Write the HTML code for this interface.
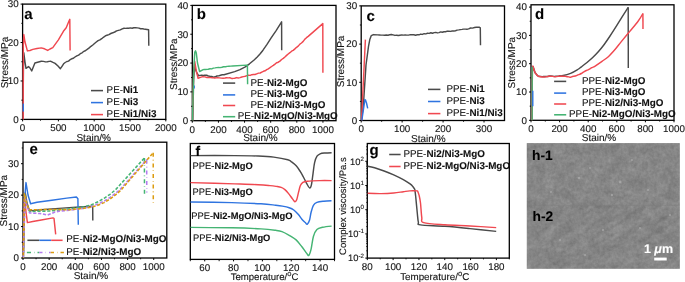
<!DOCTYPE html>
<html><head><meta charset="utf-8"><style>
html,body{margin:0;padding:0;background:#fff;}
body{width:685px;height:282px;overflow:hidden;}
svg{display:block;font-family:"Liberation Sans", sans-serif;will-change:transform;text-rendering:geometricPrecision;}
text{stroke:#1a1a1a;stroke-width:0.12px;}
text.w{stroke:#fff;}
</style></head><body>
<svg width="685" height="282" viewBox="0 0 685 282">
<rect x="22.60" y="4.10" width="143.20" height="115.30" fill="none" stroke="#000" stroke-width="1.3"/>
<polyline points="23.0,119.4 23.4,70.0 23.8,52.8 25.0,62.0 26.0,68.3 28.5,66.6 30.0,68.0 31.7,70.9 34.9,63.0 41.3,61.3 43.4,61.4 45.5,61.9 47.3,61.7 49.1,61.4 50.9,61.3 53.0,62.4 55.1,63.4 58.0,66.0 60.4,68.7 62.0,66.3 63.6,63.8 65.2,62.5 66.9,61.5 68.5,61.1 70.1,59.7 71.7,58.8 73.4,58.3 75.0,57.0 76.8,55.9 78.6,55.1 80.3,53.7 82.1,52.8 83.9,51.3 85.7,50.5 87.5,49.2 89.2,47.9 91.0,46.3 92.8,45.0 94.5,43.5 96.3,42.0 98.1,40.6 99.9,39.9 101.7,38.7 103.4,37.3 105.2,36.0 107.0,35.2 108.9,34.6 110.8,33.5 112.8,32.8 114.7,32.0 116.6,30.9 118.4,30.4 120.3,29.9 122.2,28.9 124.0,28.3 125.6,28.4 127.2,28.1 128.8,28.3 130.4,27.9 132.1,28.2 133.8,27.7 135.6,27.8 137.3,27.9 139.0,28.1 140.6,28.7 142.2,28.6 143.8,29.0 145.4,29.2 148.6,29.8 148.8,45.8" fill="none" stroke="#4a4a4a" stroke-width="1.45" stroke-linejoin="round" stroke-linecap="butt"/>
<polyline points="23.2,119.4 23.3,45.0 23.8,34.5 25.0,42.0 27.4,50.9 30.0,50.5 32.8,49.4 37.0,48.5 41.3,47.9 44.5,48.8 47.7,50.4 50.0,49.0 52.8,47.6 58.4,39.8 63.4,31.3 66.2,27.8 69.1,20.7 69.8,19.3 70.1,50.5" fill="none" stroke="#f04850" stroke-width="1.45" stroke-linejoin="round" stroke-linecap="butt"/>
<polyline points="23.3,111.6 23.3,103.6" fill="none" stroke="#2f74e0" stroke-width="1.45" stroke-linejoin="round" stroke-linecap="butt"/>
<line x1="22.60" y1="119.40" x2="22.60" y2="121.40" stroke="#000" stroke-width="1.0"/>
<text x="22.60" y="131.30" font-size="9.8" text-anchor="middle" font-weight="normal" fill="#111">0</text>
<line x1="58.40" y1="119.40" x2="58.40" y2="121.40" stroke="#000" stroke-width="1.0"/>
<text x="58.40" y="131.30" font-size="9.8" text-anchor="middle" font-weight="normal" fill="#111">500</text>
<line x1="94.20" y1="119.40" x2="94.20" y2="121.40" stroke="#000" stroke-width="1.0"/>
<text x="94.20" y="131.30" font-size="9.8" text-anchor="middle" font-weight="normal" fill="#111">1000</text>
<line x1="130.00" y1="119.40" x2="130.00" y2="121.40" stroke="#000" stroke-width="1.0"/>
<text x="130.00" y="131.30" font-size="9.8" text-anchor="middle" font-weight="normal" fill="#111">1500</text>
<line x1="165.80" y1="119.40" x2="165.80" y2="121.40" stroke="#000" stroke-width="1.0"/>
<text x="165.80" y="131.30" font-size="9.8" text-anchor="middle" font-weight="normal" fill="#111">2000</text>
<line x1="40.50" y1="119.40" x2="40.50" y2="120.70" stroke="#000" stroke-width="0.9"/>
<line x1="76.30" y1="119.40" x2="76.30" y2="120.70" stroke="#000" stroke-width="0.9"/>
<line x1="112.10" y1="119.40" x2="112.10" y2="120.70" stroke="#000" stroke-width="0.9"/>
<line x1="147.90" y1="119.40" x2="147.90" y2="120.70" stroke="#000" stroke-width="0.9"/>
<line x1="20.60" y1="119.40" x2="22.60" y2="119.40" stroke="#000" stroke-width="1.0"/>
<text x="18.60" y="122.70" font-size="9.8" text-anchor="end" font-weight="normal" fill="#111">0</text>
<line x1="20.60" y1="80.97" x2="22.60" y2="80.97" stroke="#000" stroke-width="1.0"/>
<text x="18.60" y="84.27" font-size="9.8" text-anchor="end" font-weight="normal" fill="#111">10</text>
<line x1="20.60" y1="42.53" x2="22.60" y2="42.53" stroke="#000" stroke-width="1.0"/>
<text x="18.60" y="45.83" font-size="9.8" text-anchor="end" font-weight="normal" fill="#111">20</text>
<line x1="20.60" y1="4.10" x2="22.60" y2="4.10" stroke="#000" stroke-width="1.0"/>
<text x="18.60" y="7.40" font-size="9.8" text-anchor="end" font-weight="normal" fill="#111">30</text>
<line x1="21.30" y1="100.18" x2="22.60" y2="100.18" stroke="#000" stroke-width="0.9"/>
<line x1="21.30" y1="61.75" x2="22.60" y2="61.75" stroke="#000" stroke-width="0.9"/>
<line x1="21.30" y1="23.32" x2="22.60" y2="23.32" stroke="#000" stroke-width="0.9"/>
<text x="0" y="0" font-size="10" text-anchor="middle" fill="#111" transform="translate(7.80,62.50) rotate(-90)">Stress/MPa</text>
<text x="93.70" y="140.50" font-size="10" text-anchor="middle" font-weight="normal" fill="#111">Stain/%</text>
<text x="24.30" y="19.00" font-size="15" font-weight="bold" fill="#000">a</text>
<line x1="91.00" y1="90.60" x2="103.00" y2="90.60" stroke="#4a4a4a" stroke-width="1.55"/>
<text x="106.60" y="93.20" font-size="9.85" fill="#111">PE-<tspan font-weight="bold">Ni1</tspan></text>
<line x1="91.00" y1="102.60" x2="103.00" y2="102.60" stroke="#2f74e0" stroke-width="1.55"/>
<text x="106.60" y="105.20" font-size="9.85" fill="#111">PE-<tspan font-weight="bold">Ni3</tspan></text>
<line x1="91.00" y1="114.60" x2="103.00" y2="114.60" stroke="#f04850" stroke-width="1.55"/>
<text x="106.60" y="117.20" font-size="9.85" fill="#111">PE-<tspan font-weight="bold">Ni1/Ni3</tspan></text>
<rect x="192.30" y="5.40" width="143.70" height="115.30" fill="none" stroke="#000" stroke-width="1.3"/>
<polyline points="192.8,120.7 193.6,80.0 194.5,67.0 196.5,72.0 198.5,75.7 200.1,75.4 201.7,75.2 203.3,75.4 204.9,75.1 206.6,75.2 208.3,76.0 210.0,76.3 211.7,76.5 213.4,77.2 215.2,76.8 216.9,76.0 218.7,75.9 220.5,75.2 222.2,74.8 224.0,74.7 234.7,71.6 240.0,69.6 245.3,66.8 249.5,63.8 253.8,60.2 257.0,57.2 260.2,53.8 263.0,50.2 267.0,44.4 271.0,38.2 276.3,30.3 281.6,21.8 281.7,50.2" fill="none" stroke="#4a4a4a" stroke-width="1.45" stroke-linejoin="round" stroke-linecap="butt"/>
<polyline points="192.5,120.7 193.6,72.0 194.7,61.3 196.5,72.0 198.1,78.3 200.4,77.4 202.8,76.6 204.9,76.9 206.9,77.5 209.0,77.5 210.6,77.6 212.2,77.7 213.9,77.9 215.5,77.9 217.4,77.7 219.3,77.9 221.2,78.1 223.1,78.2 225.0,78.0 226.6,77.7 228.2,77.9 229.8,77.8 231.5,78.4 233.1,78.4 234.7,78.3 236.5,77.6 238.2,78.0 240.0,77.6 241.8,77.0 243.5,76.6 245.3,76.2 246.9,75.6 248.5,75.2 250.2,75.4 251.8,74.7 253.4,74.5 255.0,74.5 256.7,73.8 258.5,73.1 260.2,73.0 261.8,72.1 263.4,71.3 265.1,70.8 266.7,69.7 268.3,68.8 270.0,67.7 271.6,66.5 273.3,65.4 275.0,64.1 276.6,62.8 278.3,62.2 279.9,61.1 281.6,59.5 283.3,58.4 284.9,57.0 286.6,55.4 288.2,54.0 289.9,52.7 291.6,51.2 293.2,50.4 294.9,48.9 296.6,47.3 298.2,46.1 299.9,44.1 301.5,43.0 303.2,41.4 304.9,39.1 306.5,37.7 308.2,36.4 322.8,23.6 322.9,72.8" fill="none" stroke="#f04850" stroke-width="1.45" stroke-linejoin="round" stroke-linecap="butt"/>
<polyline points="194.4,88.5 194.4,85.5" fill="none" stroke="#2f74e0" stroke-width="1.0" stroke-linejoin="round" stroke-linecap="butt"/>
<polyline points="192.5,120.7 193.6,75.0 194.2,62.0 194.8,52.0 195.5,50.8 196.3,53.0 197.5,63.0 199.6,71.5 202.8,69.8 204.6,69.4 206.4,69.4 208.2,69.2 210.0,68.8 211.7,68.9 213.4,68.1 215.1,67.9 216.8,67.6 218.5,67.4 220.2,67.6 221.9,67.2 223.7,66.7 225.5,66.8 227.2,66.4 229.0,66.2 230.8,66.1 232.6,66.0 246.4,65.1 247.4,65.3 247.6,84.3" fill="none" stroke="#45b473" stroke-width="1.45" stroke-linejoin="round" stroke-linecap="butt"/>
<line x1="192.30" y1="120.70" x2="192.30" y2="122.70" stroke="#000" stroke-width="1.0"/>
<text x="192.30" y="132.60" font-size="9.8" text-anchor="middle" font-weight="normal" fill="#111">0</text>
<line x1="218.43" y1="120.70" x2="218.43" y2="122.70" stroke="#000" stroke-width="1.0"/>
<text x="218.43" y="132.60" font-size="9.8" text-anchor="middle" font-weight="normal" fill="#111">200</text>
<line x1="244.55" y1="120.70" x2="244.55" y2="122.70" stroke="#000" stroke-width="1.0"/>
<text x="244.55" y="132.60" font-size="9.8" text-anchor="middle" font-weight="normal" fill="#111">400</text>
<line x1="270.68" y1="120.70" x2="270.68" y2="122.70" stroke="#000" stroke-width="1.0"/>
<text x="270.68" y="132.60" font-size="9.8" text-anchor="middle" font-weight="normal" fill="#111">600</text>
<line x1="296.81" y1="120.70" x2="296.81" y2="122.70" stroke="#000" stroke-width="1.0"/>
<text x="296.81" y="132.60" font-size="9.8" text-anchor="middle" font-weight="normal" fill="#111">800</text>
<line x1="322.94" y1="120.70" x2="322.94" y2="122.70" stroke="#000" stroke-width="1.0"/>
<text x="322.94" y="132.60" font-size="9.8" text-anchor="middle" font-weight="normal" fill="#111">1000</text>
<line x1="205.36" y1="120.70" x2="205.36" y2="122.00" stroke="#000" stroke-width="0.9"/>
<line x1="231.49" y1="120.70" x2="231.49" y2="122.00" stroke="#000" stroke-width="0.9"/>
<line x1="257.62" y1="120.70" x2="257.62" y2="122.00" stroke="#000" stroke-width="0.9"/>
<line x1="283.75" y1="120.70" x2="283.75" y2="122.00" stroke="#000" stroke-width="0.9"/>
<line x1="309.87" y1="120.70" x2="309.87" y2="122.00" stroke="#000" stroke-width="0.9"/>
<line x1="190.30" y1="120.70" x2="192.30" y2="120.70" stroke="#000" stroke-width="1.0"/>
<text x="188.30" y="124.00" font-size="9.8" text-anchor="end" font-weight="normal" fill="#111">0</text>
<line x1="190.30" y1="91.88" x2="192.30" y2="91.88" stroke="#000" stroke-width="1.0"/>
<text x="188.30" y="95.17" font-size="9.8" text-anchor="end" font-weight="normal" fill="#111">10</text>
<line x1="190.30" y1="63.05" x2="192.30" y2="63.05" stroke="#000" stroke-width="1.0"/>
<text x="188.30" y="66.35" font-size="9.8" text-anchor="end" font-weight="normal" fill="#111">20</text>
<line x1="190.30" y1="34.23" x2="192.30" y2="34.23" stroke="#000" stroke-width="1.0"/>
<text x="188.30" y="37.53" font-size="9.8" text-anchor="end" font-weight="normal" fill="#111">30</text>
<line x1="190.30" y1="5.40" x2="192.30" y2="5.40" stroke="#000" stroke-width="1.0"/>
<text x="188.30" y="8.70" font-size="9.8" text-anchor="end" font-weight="normal" fill="#111">40</text>
<line x1="191.00" y1="106.29" x2="192.30" y2="106.29" stroke="#000" stroke-width="0.9"/>
<line x1="191.00" y1="77.46" x2="192.30" y2="77.46" stroke="#000" stroke-width="0.9"/>
<line x1="191.00" y1="48.64" x2="192.30" y2="48.64" stroke="#000" stroke-width="0.9"/>
<line x1="191.00" y1="19.81" x2="192.30" y2="19.81" stroke="#000" stroke-width="0.9"/>
<text x="0" y="0" font-size="10" text-anchor="middle" fill="#111" transform="translate(177.00,64.20) rotate(-90)">Stress/MPa</text>
<text x="260.40" y="141.40" font-size="10" text-anchor="middle" font-weight="normal" fill="#111">Stain/%</text>
<text x="196.80" y="19.20" font-size="15" font-weight="bold" fill="#000">b</text>
<line x1="223.00" y1="83.10" x2="235.20" y2="83.10" stroke="#4a4a4a" stroke-width="1.55"/>
<line x1="223.00" y1="94.90" x2="235.20" y2="94.90" stroke="#2f74e0" stroke-width="1.55"/>
<line x1="223.00" y1="105.50" x2="235.20" y2="105.50" stroke="#f04850" stroke-width="1.55"/>
<line x1="223.00" y1="116.70" x2="235.20" y2="116.70" stroke="#45b473" stroke-width="1.55"/>
<text x="250.50" y="85.50" font-size="9.85" fill="#111">PE-<tspan font-weight="bold">Ni2-MgO</tspan></text>
<text x="250.50" y="97.10" font-size="9.85" fill="#111">PE-<tspan font-weight="bold">Ni3-MgO</tspan></text>
<text x="250.50" y="107.50" font-size="9.85" fill="#111">PE-<tspan font-weight="bold">Ni2/Ni3-MgO</tspan></text>
<text x="237.70" y="118.70" font-size="9.85" fill="#111">PE-<tspan font-weight="bold">Ni2-MgO/Ni3-MgO</tspan></text>
<rect x="361.20" y="5.90" width="143.30" height="114.60" fill="none" stroke="#000" stroke-width="1.3"/>
<polyline points="361.5,120.5 363.5,103.0 366.0,65.0 368.5,46.3 369.9,39.2 371.3,35.6 373.4,34.6 377.7,34.9 379.4,35.0 381.1,35.1 382.8,35.1 384.6,35.2 386.3,35.0 388.0,35.2 389.7,34.8 391.4,34.5 393.1,34.9 394.9,35.4 396.6,35.2 398.3,35.5 400.0,35.2 401.7,34.9 403.5,35.1 405.2,34.9 406.9,35.1 408.6,35.1 410.4,34.6 412.1,34.7 413.8,34.7 415.6,35.2 417.3,34.8 419.0,34.8 420.7,34.1 422.4,34.4 424.1,33.7 425.8,33.9 427.5,33.3 429.2,33.4 430.8,32.8 432.5,33.3 434.1,32.6 435.8,32.4 437.4,32.9 439.0,32.6 440.7,31.9 442.3,32.3 444.0,31.8 445.6,31.7 447.3,31.1 448.9,31.2 450.5,31.4 452.2,31.0 453.8,31.0 455.5,30.7 457.1,30.1 458.8,29.9 460.4,29.6 462.0,29.4 463.7,29.1 465.3,29.1 467.0,29.2 468.6,28.9 470.6,28.0 472.5,28.1 474.5,27.5 476.2,27.3 477.8,27.2 479.5,27.3 480.3,27.8 480.5,45.2" fill="none" stroke="#4a4a4a" stroke-width="1.45" stroke-linejoin="round" stroke-linecap="butt"/>
<polyline points="361.5,120.5 365.4,39.6" fill="none" stroke="#f04850" stroke-width="1.45" stroke-linejoin="round" stroke-linecap="butt"/>
<polyline points="361.8,120.5 364.9,99.6 365.4,99.8 366.5,103.0 367.7,108.4" fill="none" stroke="#2f74e0" stroke-width="1.45" stroke-linejoin="round" stroke-linecap="butt"/>
<line x1="361.20" y1="120.50" x2="361.20" y2="122.50" stroke="#000" stroke-width="1.0"/>
<text x="361.20" y="132.40" font-size="9.8" text-anchor="middle" font-weight="normal" fill="#111">0</text>
<line x1="402.14" y1="120.50" x2="402.14" y2="122.50" stroke="#000" stroke-width="1.0"/>
<text x="402.14" y="132.40" font-size="9.8" text-anchor="middle" font-weight="normal" fill="#111">100</text>
<line x1="443.09" y1="120.50" x2="443.09" y2="122.50" stroke="#000" stroke-width="1.0"/>
<text x="443.09" y="132.40" font-size="9.8" text-anchor="middle" font-weight="normal" fill="#111">200</text>
<line x1="484.03" y1="120.50" x2="484.03" y2="122.50" stroke="#000" stroke-width="1.0"/>
<text x="484.03" y="132.40" font-size="9.8" text-anchor="middle" font-weight="normal" fill="#111">300</text>
<line x1="381.67" y1="120.50" x2="381.67" y2="121.80" stroke="#000" stroke-width="0.9"/>
<line x1="422.61" y1="120.50" x2="422.61" y2="121.80" stroke="#000" stroke-width="0.9"/>
<line x1="463.56" y1="120.50" x2="463.56" y2="121.80" stroke="#000" stroke-width="0.9"/>
<line x1="359.20" y1="120.50" x2="361.20" y2="120.50" stroke="#000" stroke-width="1.0"/>
<text x="357.20" y="123.80" font-size="9.8" text-anchor="end" font-weight="normal" fill="#111">0</text>
<line x1="359.20" y1="82.30" x2="361.20" y2="82.30" stroke="#000" stroke-width="1.0"/>
<text x="357.20" y="85.60" font-size="9.8" text-anchor="end" font-weight="normal" fill="#111">10</text>
<line x1="359.20" y1="44.10" x2="361.20" y2="44.10" stroke="#000" stroke-width="1.0"/>
<text x="357.20" y="47.40" font-size="9.8" text-anchor="end" font-weight="normal" fill="#111">20</text>
<line x1="359.20" y1="5.90" x2="361.20" y2="5.90" stroke="#000" stroke-width="1.0"/>
<text x="357.20" y="9.20" font-size="9.8" text-anchor="end" font-weight="normal" fill="#111">30</text>
<line x1="359.90" y1="101.40" x2="361.20" y2="101.40" stroke="#000" stroke-width="0.9"/>
<line x1="359.90" y1="63.20" x2="361.20" y2="63.20" stroke="#000" stroke-width="0.9"/>
<line x1="359.90" y1="25.00" x2="361.20" y2="25.00" stroke="#000" stroke-width="0.9"/>
<text x="0" y="0" font-size="10" text-anchor="middle" fill="#111" transform="translate(344.40,61.40) rotate(-90)">Stress/MPa</text>
<text x="428.30" y="141.60" font-size="10" text-anchor="middle" font-weight="normal" fill="#111">Stain/%</text>
<text x="366.50" y="20.80" font-size="15" font-weight="bold" fill="#000">c</text>
<line x1="428.00" y1="89.40" x2="440.40" y2="89.40" stroke="#4a4a4a" stroke-width="1.55"/>
<text x="446.40" y="91.60" font-size="9.85" fill="#111">PPE-<tspan font-weight="bold">Ni1</tspan></text>
<line x1="428.00" y1="101.50" x2="440.40" y2="101.50" stroke="#2f74e0" stroke-width="1.55"/>
<text x="446.40" y="103.70" font-size="9.85" fill="#111">PPE-<tspan font-weight="bold">Ni3</tspan></text>
<line x1="428.00" y1="113.60" x2="440.40" y2="113.60" stroke="#f04850" stroke-width="1.55"/>
<text x="446.40" y="115.80" font-size="9.85" fill="#111">PPE-<tspan font-weight="bold">Ni1/Ni3</tspan></text>
<rect x="531.00" y="4.80" width="143.00" height="115.50" fill="none" stroke="#000" stroke-width="1.3"/>
<polyline points="531.8,120.3 532.4,72.0 533.0,66.5 535.1,72.8 538.0,76.3" fill="none" stroke="#4a4a4a" stroke-width="1.45" stroke-linejoin="round" stroke-linecap="butt"/>
<path d="M538.00,76.30 C538.00,76.30 541.20,76.57 542.20,76.60 C543.20,76.63 543.38,76.48 543.98,76.46 C544.57,76.44 545.16,76.49 545.75,76.48 C546.34,76.48 546.93,76.51 547.52,76.43 C548.12,76.35 548.71,76.08 549.30,76.00 C549.89,75.92 550.48,75.90 551.07,75.95 C551.67,76.00 552.26,76.24 552.85,76.31 C553.44,76.38 554.03,76.35 554.62,76.35 C555.22,76.35 555.79,76.32 556.40,76.30 C557.01,76.28 557.64,76.32 558.27,76.23 C558.89,76.14 559.51,75.80 560.13,75.73 C560.76,75.66 560.26,76.21 562.00,75.80 C563.74,75.39 567.98,74.35 570.60,73.30 C573.22,72.25 575.92,70.57 577.70,69.50 C579.48,68.43 579.75,68.07 581.30,66.90 C582.85,65.73 585.10,64.07 587.00,62.50 C588.90,60.93 590.78,59.33 592.70,57.50 C594.62,55.67 596.62,53.63 598.50,51.50 C600.38,49.37 602.13,47.20 604.00,44.70 C605.87,42.20 607.80,39.33 609.70,36.50 C611.60,33.67 613.43,30.82 615.40,27.70 C617.37,24.58 619.37,21.20 621.50,17.80 C623.63,14.40 628.20,7.30 628.20,7.30" fill="none" stroke="#4a4a4a" stroke-width="1.45" stroke-linejoin="round"/>
<polyline points="628.2,7.3 628.3,68.0" fill="none" stroke="#4a4a4a" stroke-width="1.45" stroke-linejoin="round" stroke-linecap="butt"/>
<polyline points="531.8,120.3 532.3,72.0 533.0,66.1 535.1,72.8 538.0,76.3" fill="none" stroke="#f04850" stroke-width="1.45" stroke-linejoin="round" stroke-linecap="butt"/>
<path d="M538.00,76.30 C538.00,76.30 541.20,76.89 542.20,77.00 C543.20,77.11 543.38,76.97 543.98,76.95 C544.57,76.92 545.16,76.93 545.75,76.85 C546.34,76.77 546.93,76.58 547.52,76.49 C548.12,76.40 548.71,76.32 549.30,76.30 C549.89,76.28 550.48,76.37 551.07,76.38 C551.67,76.40 552.26,76.29 552.85,76.38 C553.44,76.46 554.03,76.84 554.62,76.87 C555.22,76.91 555.81,76.68 556.40,76.60 C556.99,76.52 557.58,76.44 558.17,76.38 C558.77,76.31 559.36,76.23 559.95,76.20 C560.54,76.18 561.13,76.19 561.73,76.21 C562.32,76.22 562.91,76.27 563.50,76.30 C564.09,76.33 564.68,76.32 565.27,76.38 C565.87,76.45 566.46,76.59 567.05,76.68 C567.64,76.76 568.23,76.78 568.83,76.89 C569.42,76.99 570.00,77.36 570.60,77.30 C571.20,77.24 571.80,76.71 572.40,76.53 C573.00,76.34 573.60,76.30 574.20,76.18 C574.80,76.06 575.41,76.01 576.00,75.80 C576.59,75.59 577.18,75.15 577.77,74.90 C578.36,74.65 578.94,74.55 579.53,74.32 C580.12,74.08 580.73,73.82 581.30,73.50 C581.87,73.18 582.42,72.72 582.97,72.37 C583.53,72.01 584.09,71.66 584.65,71.35 C585.21,71.04 585.77,70.78 586.33,70.52 C586.88,70.26 587.41,70.08 588.00,69.80 C588.59,69.52 589.25,69.18 589.88,68.83 C590.50,68.48 591.12,68.03 591.75,67.72 C592.38,67.41 593.00,67.28 593.62,66.96 C594.25,66.64 594.10,66.74 595.50,65.80 C596.90,64.86 599.87,62.82 602.00,61.30 C604.13,59.78 606.13,58.67 608.30,56.70 C610.47,54.73 612.87,51.97 615.00,49.50 C617.13,47.03 618.67,44.88 621.10,41.90 C623.53,38.92 626.77,35.05 629.60,31.60 C632.43,28.15 635.88,24.22 638.10,21.20 C640.32,18.18 642.90,13.50 642.90,13.50" fill="none" stroke="#f04850" stroke-width="1.45" stroke-linejoin="round"/>
<polyline points="642.9,13.5 643.0,29.1" fill="none" stroke="#f04850" stroke-width="1.45" stroke-linejoin="round" stroke-linecap="butt"/>
<polyline points="532.1,120.3 532.2,67.0" fill="none" stroke="#45b473" stroke-width="1.4" stroke-linejoin="round" stroke-linecap="butt"/>
<polyline points="532.8,106.2 532.8,90.8" fill="none" stroke="#2f74e0" stroke-width="1.4" stroke-linejoin="round" stroke-linecap="butt"/>
<line x1="531.00" y1="120.30" x2="531.00" y2="122.30" stroke="#000" stroke-width="1.0"/>
<text x="531.00" y="132.20" font-size="9.8" text-anchor="middle" font-weight="normal" fill="#111">0</text>
<line x1="559.60" y1="120.30" x2="559.60" y2="122.30" stroke="#000" stroke-width="1.0"/>
<text x="559.60" y="132.20" font-size="9.8" text-anchor="middle" font-weight="normal" fill="#111">200</text>
<line x1="588.20" y1="120.30" x2="588.20" y2="122.30" stroke="#000" stroke-width="1.0"/>
<text x="588.20" y="132.20" font-size="9.8" text-anchor="middle" font-weight="normal" fill="#111">400</text>
<line x1="616.80" y1="120.30" x2="616.80" y2="122.30" stroke="#000" stroke-width="1.0"/>
<text x="616.80" y="132.20" font-size="9.8" text-anchor="middle" font-weight="normal" fill="#111">600</text>
<line x1="645.40" y1="120.30" x2="645.40" y2="122.30" stroke="#000" stroke-width="1.0"/>
<text x="645.40" y="132.20" font-size="9.8" text-anchor="middle" font-weight="normal" fill="#111">800</text>
<line x1="674.00" y1="120.30" x2="674.00" y2="122.30" stroke="#000" stroke-width="1.0"/>
<text x="674.00" y="132.20" font-size="9.8" text-anchor="middle" font-weight="normal" fill="#111">1000</text>
<line x1="545.30" y1="120.30" x2="545.30" y2="121.60" stroke="#000" stroke-width="0.9"/>
<line x1="573.90" y1="120.30" x2="573.90" y2="121.60" stroke="#000" stroke-width="0.9"/>
<line x1="602.50" y1="120.30" x2="602.50" y2="121.60" stroke="#000" stroke-width="0.9"/>
<line x1="631.10" y1="120.30" x2="631.10" y2="121.60" stroke="#000" stroke-width="0.9"/>
<line x1="659.70" y1="120.30" x2="659.70" y2="121.60" stroke="#000" stroke-width="0.9"/>
<line x1="529.00" y1="120.30" x2="531.00" y2="120.30" stroke="#000" stroke-width="1.0"/>
<text x="527.00" y="123.60" font-size="9.8" text-anchor="end" font-weight="normal" fill="#111">0</text>
<line x1="529.00" y1="92.00" x2="531.00" y2="92.00" stroke="#000" stroke-width="1.0"/>
<text x="527.00" y="95.30" font-size="9.8" text-anchor="end" font-weight="normal" fill="#111">10</text>
<line x1="529.00" y1="63.70" x2="531.00" y2="63.70" stroke="#000" stroke-width="1.0"/>
<text x="527.00" y="67.00" font-size="9.8" text-anchor="end" font-weight="normal" fill="#111">20</text>
<line x1="529.00" y1="35.40" x2="531.00" y2="35.40" stroke="#000" stroke-width="1.0"/>
<text x="527.00" y="38.70" font-size="9.8" text-anchor="end" font-weight="normal" fill="#111">30</text>
<line x1="529.00" y1="7.10" x2="531.00" y2="7.10" stroke="#000" stroke-width="1.0"/>
<text x="527.00" y="10.40" font-size="9.8" text-anchor="end" font-weight="normal" fill="#111">40</text>
<line x1="529.70" y1="106.15" x2="531.00" y2="106.15" stroke="#000" stroke-width="0.9"/>
<line x1="529.70" y1="77.85" x2="531.00" y2="77.85" stroke="#000" stroke-width="0.9"/>
<line x1="529.70" y1="49.55" x2="531.00" y2="49.55" stroke="#000" stroke-width="0.9"/>
<line x1="529.70" y1="21.25" x2="531.00" y2="21.25" stroke="#000" stroke-width="0.9"/>
<text x="0" y="0" font-size="10" text-anchor="middle" fill="#111" transform="translate(515.20,62.70) rotate(-90)">Stress/MPa</text>
<text x="599.00" y="140.80" font-size="10" text-anchor="middle" font-weight="normal" fill="#111">Stain/%</text>
<text x="535.00" y="19.00" font-size="15" font-weight="bold" fill="#000">d</text>
<line x1="554.10" y1="81.40" x2="566.20" y2="81.40" stroke="#4a4a4a" stroke-width="1.55"/>
<line x1="554.10" y1="93.10" x2="566.20" y2="93.10" stroke="#2f74e0" stroke-width="1.55"/>
<line x1="554.10" y1="104.00" x2="566.20" y2="104.00" stroke="#f04850" stroke-width="1.55"/>
<line x1="554.10" y1="114.80" x2="566.20" y2="114.80" stroke="#45b473" stroke-width="1.55"/>
<text x="581.90" y="84.10" font-size="9.85" fill="#111">PPE-<tspan font-weight="bold">Ni2-MgO</tspan></text>
<text x="581.90" y="95.20" font-size="9.85" fill="#111">PPE-<tspan font-weight="bold">Ni3-MgO</tspan></text>
<text x="581.90" y="105.80" font-size="9.85" fill="#111">PPE-<tspan font-weight="bold">Ni2/Ni3-MgO</tspan></text>
<text x="569.00" y="116.70" font-size="9.85" fill="#111">PPE-<tspan font-weight="bold">Ni2-MgO/Ni3-MgO</tspan></text>
<rect x="23.00" y="142.20" width="143.80" height="115.80" fill="none" stroke="#000" stroke-width="1.3"/>
<polyline points="23.3,258.0 24.5,200.0 25.3,192.8 27.0,203.0 29.6,210.9 41.3,209.8 62.6,208.1 79.6,207.0 92.7,206.3 92.8,220.5" fill="none" stroke="#4a4a4a" stroke-width="1.45" stroke-linejoin="round" stroke-linecap="butt"/>
<polyline points="23.3,258.0 24.5,200.0 26.0,182.6 28.0,195.0 30.6,203.8 37.0,202.3 51.9,200.2 66.8,198.1 76.4,197.0 77.9,198.7 78.3,224.7" fill="none" stroke="#2f74e0" stroke-width="1.45" stroke-linejoin="round" stroke-linecap="butt"/>
<polyline points="23.3,258.0 24.0,210.0 24.7,198.1 26.0,212.0 27.4,222.6 32.8,221.5 41.3,220.0 53.0,217.9 54.0,218.3 55.7,234.3" fill="none" stroke="#f04850" stroke-width="1.45" stroke-linejoin="round" stroke-linecap="butt"/>
<polyline points="23.3,258.0 25.0,194.9 27.0,205.0 29.6,211.5 50.0,211.0 70.0,208.8 84.2,206.8 92.0,204.6 98.0,201.8 104.1,198.3 110.0,194.3 115.5,189.8 144.4,158.0" fill="none" stroke="#45b473" stroke-width="1.55" stroke-linejoin="round" stroke-linecap="butt" stroke-dasharray="3.2 1.7"/>
<polyline points="144.4,158.0 144.5,194.0" fill="none" stroke="#45b473" stroke-width="1.5" stroke-linejoin="round" stroke-linecap="butt" stroke-dasharray="4 3 0.6 3"/>
<polyline points="23.3,258.0 25.0,196.0 27.0,206.0 29.6,213.0 40.0,213.5 47.7,215.1 55.0,212.0 60.0,211.0 70.0,210.2 84.2,208.2 92.7,206.2 98.5,203.8 104.1,201.1 110.0,197.5 115.5,193.3 120.0,189.6 146.7,159.6" fill="none" stroke="#b57cf0" stroke-width="1.55" stroke-linejoin="round" stroke-linecap="butt" stroke-dasharray="3.2 1.7"/>
<polyline points="146.7,159.8 146.8,192.6" fill="none" stroke="#b57cf0" stroke-width="1.5" stroke-linejoin="round" stroke-linecap="butt" stroke-dasharray="4 3 0.6 3"/>
<polyline points="23.3,258.0 24.5,193.8 26.5,203.0 29.0,209.8 50.0,209.5 70.0,209.7 84.0,208.3 92.7,206.8 98.5,205.0 104.1,202.6 110.0,199.1 115.5,194.9 120.5,190.6 153.2,152.8" fill="none" stroke="#dc9c10" stroke-width="1.55" stroke-linejoin="round" stroke-linecap="butt" stroke-dasharray="3.2 1.7" stroke-dashoffset="2.45"/>
<polyline points="153.2,152.8 153.3,205.4" fill="none" stroke="#dc9c10" stroke-width="1.5" stroke-linejoin="round" stroke-linecap="butt" stroke-dasharray="4 3 0.6 3"/>
<line x1="23.00" y1="258.00" x2="23.00" y2="260.00" stroke="#000" stroke-width="1.0"/>
<text x="23.00" y="269.90" font-size="9.8" text-anchor="middle" font-weight="normal" fill="#111">0</text>
<line x1="49.15" y1="258.00" x2="49.15" y2="260.00" stroke="#000" stroke-width="1.0"/>
<text x="49.15" y="269.90" font-size="9.8" text-anchor="middle" font-weight="normal" fill="#111">200</text>
<line x1="75.29" y1="258.00" x2="75.29" y2="260.00" stroke="#000" stroke-width="1.0"/>
<text x="75.29" y="269.90" font-size="9.8" text-anchor="middle" font-weight="normal" fill="#111">400</text>
<line x1="101.44" y1="258.00" x2="101.44" y2="260.00" stroke="#000" stroke-width="1.0"/>
<text x="101.44" y="269.90" font-size="9.8" text-anchor="middle" font-weight="normal" fill="#111">600</text>
<line x1="127.58" y1="258.00" x2="127.58" y2="260.00" stroke="#000" stroke-width="1.0"/>
<text x="127.58" y="269.90" font-size="9.8" text-anchor="middle" font-weight="normal" fill="#111">800</text>
<line x1="153.73" y1="258.00" x2="153.73" y2="260.00" stroke="#000" stroke-width="1.0"/>
<text x="153.73" y="269.90" font-size="9.8" text-anchor="middle" font-weight="normal" fill="#111">1000</text>
<line x1="36.07" y1="258.00" x2="36.07" y2="259.30" stroke="#000" stroke-width="0.9"/>
<line x1="62.22" y1="258.00" x2="62.22" y2="259.30" stroke="#000" stroke-width="0.9"/>
<line x1="88.36" y1="258.00" x2="88.36" y2="259.30" stroke="#000" stroke-width="0.9"/>
<line x1="114.51" y1="258.00" x2="114.51" y2="259.30" stroke="#000" stroke-width="0.9"/>
<line x1="140.65" y1="258.00" x2="140.65" y2="259.30" stroke="#000" stroke-width="0.9"/>
<line x1="21.00" y1="258.00" x2="23.00" y2="258.00" stroke="#000" stroke-width="1.0"/>
<text x="19.00" y="261.30" font-size="9.8" text-anchor="end" font-weight="normal" fill="#111">0</text>
<line x1="21.00" y1="226.57" x2="23.00" y2="226.57" stroke="#000" stroke-width="1.0"/>
<text x="19.00" y="229.87" font-size="9.8" text-anchor="end" font-weight="normal" fill="#111">10</text>
<line x1="21.00" y1="195.13" x2="23.00" y2="195.13" stroke="#000" stroke-width="1.0"/>
<text x="19.00" y="198.43" font-size="9.8" text-anchor="end" font-weight="normal" fill="#111">20</text>
<line x1="21.00" y1="163.70" x2="23.00" y2="163.70" stroke="#000" stroke-width="1.0"/>
<text x="19.00" y="167.00" font-size="9.8" text-anchor="end" font-weight="normal" fill="#111">30</text>
<line x1="21.70" y1="242.28" x2="23.00" y2="242.28" stroke="#000" stroke-width="0.9"/>
<line x1="21.70" y1="210.85" x2="23.00" y2="210.85" stroke="#000" stroke-width="0.9"/>
<line x1="21.70" y1="179.42" x2="23.00" y2="179.42" stroke="#000" stroke-width="0.9"/>
<line x1="21.70" y1="147.98" x2="23.00" y2="147.98" stroke="#000" stroke-width="0.9"/>
<text x="0" y="0" font-size="10" text-anchor="middle" fill="#111" transform="translate(7.40,200.70) rotate(-90)">Stress/MPa</text>
<text x="90.90" y="278.60" font-size="10" text-anchor="middle" font-weight="normal" fill="#111">Stain/%</text>
<text x="29.50" y="153.90" font-size="15" font-weight="bold" fill="#000">e</text>
<line x1="27.40" y1="240.30" x2="39.30" y2="240.30" stroke="#4a4a4a" stroke-width="1.55"/>
<line x1="39.30" y1="240.30" x2="51.20" y2="240.30" stroke="#2f74e0" stroke-width="1.55"/>
<line x1="51.20" y1="240.30" x2="62.60" y2="240.30" stroke="#f04850" stroke-width="1.55"/>
<line x1="26.9" y1="252.6" x2="39.2" y2="252.6" stroke="#45b473" stroke-width="1.5" stroke-dasharray="5 3.05 0.4 3.05" stroke-dashoffset="0.90"/>
<line x1="39.2" y1="252.6" x2="50.7" y2="252.6" stroke="#b57cf0" stroke-width="1.5" stroke-dasharray="5 3.05 0.4 3.05" stroke-dashoffset="13.20"/>
<line x1="50.7" y1="252.6" x2="63.9" y2="252.6" stroke="#dc9c10" stroke-width="1.5" stroke-dasharray="5 3.05 0.4 3.05" stroke-dashoffset="24.70"/>
<text x="66.30" y="242.20" font-size="9.85" fill="#111">PE-<tspan font-weight="bold">Ni2-MgO/Ni3-MgO</tspan></text>
<text x="66.30" y="254.50" font-size="9.85" fill="#111">PE-<tspan font-weight="bold">Ni2/Ni3-MgO</tspan></text>
<rect x="190.30" y="143.50" width="144.20" height="115.90" fill="none" stroke="#000" stroke-width="1.3"/>
<path d="M190.50,155.60 C190.50,155.60 223.52,155.53 234.80,155.60 C246.08,155.67 251.70,155.75 258.20,156.00 C264.70,156.25 268.87,156.48 273.80,157.10 C278.73,157.72 284.87,158.92 287.80,159.70 C290.73,160.48 290.00,160.78 291.40,161.80 C292.80,162.82 294.73,164.20 296.20,165.80 C297.67,167.40 299.00,169.53 300.20,171.40 C301.40,173.27 302.33,175.02 303.40,177.00 C304.47,178.98 305.58,181.48 306.60,183.30 C307.62,185.12 308.70,187.63 309.50,187.90 C310.30,188.17 310.82,187.25 311.40,184.90 C311.98,182.55 312.47,177.52 313.00,173.80 C313.53,170.08 313.93,165.53 314.60,162.60 C315.27,159.67 316.08,157.67 317.00,156.20 C317.92,154.73 318.78,154.33 320.10,153.80 C321.42,153.27 322.98,153.18 324.90,153.00 C326.82,152.82 331.60,152.70 331.60,152.70" fill="none" stroke="#4a4a4a" stroke-width="1.45" stroke-linejoin="round"/>
<path d="M190.50,182.60 C190.50,182.60 223.52,183.55 234.80,183.90 C246.08,184.25 252.33,184.42 258.20,184.70 C264.07,184.98 267.00,185.32 270.00,185.60 C273.00,185.88 274.33,186.10 276.20,186.40 C278.07,186.70 279.75,186.87 281.20,187.40 C282.65,187.93 283.67,188.57 284.90,189.60 C286.13,190.63 287.37,192.10 288.60,193.60 C289.83,195.10 291.27,197.25 292.30,198.60 C293.33,199.95 294.07,201.50 294.80,201.70 C295.53,201.90 296.08,201.35 296.70,199.80 C297.32,198.25 297.88,194.78 298.50,192.40 C299.12,190.02 299.67,187.17 300.40,185.50 C301.13,183.83 301.77,183.12 302.90,182.40 C304.03,181.68 304.42,181.50 307.20,181.20 C309.98,180.90 315.53,180.70 319.60,180.60 C323.67,180.50 331.60,180.60 331.60,180.60" fill="none" stroke="#f04850" stroke-width="1.45" stroke-linejoin="round"/>
<path d="M190.50,202.00 C190.50,202.00 220.05,202.30 231.80,202.60 C243.55,202.90 253.70,203.37 261.00,203.80 C268.30,204.23 272.03,204.82 275.60,205.20 C279.17,205.58 280.13,205.68 282.40,206.10 C284.67,206.52 287.30,207.05 289.20,207.70 C291.10,208.35 292.27,208.85 293.80,210.00 C295.33,211.15 297.05,213.07 298.40,214.60 C299.75,216.13 300.75,217.87 301.90,219.20 C303.05,220.53 304.42,221.75 305.30,222.60 C306.18,223.45 306.50,224.68 307.20,224.30 C307.90,223.92 308.85,222.30 309.50,220.30 C310.15,218.30 310.45,214.78 311.10,212.30 C311.75,209.82 312.43,207.05 313.40,205.40 C314.37,203.75 315.17,203.10 316.90,202.40 C318.63,201.70 321.37,201.47 323.80,201.20 C326.23,200.93 331.50,200.80 331.50,200.80" fill="none" stroke="#2f74e0" stroke-width="1.45" stroke-linejoin="round"/>
<path d="M190.50,227.40 C190.50,227.40 220.05,227.55 231.80,227.80 C243.55,228.05 253.70,228.48 261.00,228.90 C268.30,229.32 272.10,229.85 275.60,230.30 C279.10,230.75 279.73,230.77 282.00,231.60 C284.27,232.43 286.85,233.92 289.20,235.30 C291.55,236.68 293.98,237.98 296.10,239.90 C298.22,241.82 300.17,244.60 301.90,246.80 C303.63,249.00 305.35,251.67 306.50,253.10 C307.65,254.53 308.03,256.07 308.80,255.40 C309.57,254.73 310.33,252.25 311.10,249.10 C311.87,245.95 312.43,239.75 313.40,236.50 C314.37,233.25 315.37,231.13 316.90,229.60 C318.43,228.07 320.15,227.88 322.60,227.30 C325.05,226.72 331.60,226.10 331.60,226.10" fill="none" stroke="#45b473" stroke-width="1.45" stroke-linejoin="round"/>
<line x1="204.72" y1="259.40" x2="204.72" y2="261.40" stroke="#000" stroke-width="1.0"/>
<text x="204.72" y="271.30" font-size="9.8" text-anchor="middle" font-weight="normal" fill="#111">60</text>
<line x1="233.56" y1="259.40" x2="233.56" y2="261.40" stroke="#000" stroke-width="1.0"/>
<text x="233.56" y="271.30" font-size="9.8" text-anchor="middle" font-weight="normal" fill="#111">80</text>
<line x1="262.40" y1="259.40" x2="262.40" y2="261.40" stroke="#000" stroke-width="1.0"/>
<text x="262.40" y="271.30" font-size="9.8" text-anchor="middle" font-weight="normal" fill="#111">100</text>
<line x1="291.24" y1="259.40" x2="291.24" y2="261.40" stroke="#000" stroke-width="1.0"/>
<text x="291.24" y="271.30" font-size="9.8" text-anchor="middle" font-weight="normal" fill="#111">120</text>
<line x1="320.08" y1="259.40" x2="320.08" y2="261.40" stroke="#000" stroke-width="1.0"/>
<text x="320.08" y="271.30" font-size="9.8" text-anchor="middle" font-weight="normal" fill="#111">140</text>
<line x1="190.30" y1="259.40" x2="190.30" y2="261.20" stroke="#000" stroke-width="0.9"/>
<line x1="219.14" y1="259.40" x2="219.14" y2="261.20" stroke="#000" stroke-width="0.9"/>
<line x1="247.98" y1="259.40" x2="247.98" y2="261.20" stroke="#000" stroke-width="0.9"/>
<line x1="276.82" y1="259.40" x2="276.82" y2="261.20" stroke="#000" stroke-width="0.9"/>
<line x1="305.66" y1="259.40" x2="305.66" y2="261.20" stroke="#000" stroke-width="0.9"/>
<line x1="334.50" y1="259.40" x2="334.50" y2="261.20" stroke="#000" stroke-width="0.9"/>
<text x="264.50" y="279.90" font-size="9.6" text-anchor="middle" font-weight="normal" fill="#111">Temperature/<tspan font-size="7.6" dy="-3.8">o</tspan><tspan dy="3.8">C</tspan></text>
<text x="195.60" y="155.80" font-size="14" font-weight="bold" fill="#000">f</text>
<text x="192.60" y="168.50" font-size="9.35" fill="#111">PPE-<tspan font-weight="bold">Ni2-MgO</tspan></text>
<text x="192.60" y="194.60" font-size="9.35" fill="#111">PPE-<tspan font-weight="bold">Ni3-MgO</tspan></text>
<text x="191.20" y="218.50" font-size="9.35" fill="#111">PPE-<tspan font-weight="bold">Ni2-MgO/Ni3-MgO</tspan></text>
<text x="193.00" y="240.80" font-size="9.35" fill="#111">PPE-<tspan font-weight="bold">Ni2/Ni3-MgO</tspan></text>
<rect x="367.30" y="143.50" width="142.00" height="114.60" fill="none" stroke="#000" stroke-width="1.3"/>
<path d="M367.60,166.20 C367.60,166.20 371.85,167.00 374.60,167.80 C377.35,168.60 380.92,169.82 384.10,171.00 C387.28,172.18 390.50,173.45 393.70,174.90 C396.90,176.35 400.63,178.23 403.30,179.70 C405.97,181.17 408.12,182.58 409.70,183.70 C411.28,184.82 411.95,185.47 412.80,186.40 C413.65,187.33 414.80,189.30 414.80,189.30 C414.80,189.30 415.28,192.50 415.70,196.50 C416.12,200.50 416.85,208.98 417.30,213.30 C417.75,217.62 417.87,220.47 418.40,222.40 C418.93,224.33 416.07,224.25 420.50,224.90 C424.93,225.55 436.75,225.68 445.00,226.30 C453.25,226.92 461.47,227.75 470.00,228.60 C478.53,229.45 496.20,231.40 496.20,231.40" fill="none" stroke="#4a4a4a" stroke-width="1.45" stroke-linejoin="round"/>
<path d="M367.60,193.30 C367.60,193.30 376.65,193.65 381.00,193.60 C385.35,193.55 389.98,193.32 393.70,193.00 C397.42,192.68 400.63,192.05 403.30,191.70 C405.97,191.35 407.32,191.03 409.70,190.90 C412.08,190.77 417.60,190.90 417.60,190.90 C417.60,190.90 418.72,193.68 419.20,195.70 C419.68,197.72 420.07,199.35 420.50,203.00 C420.93,206.65 421.27,214.33 421.80,217.60 C422.33,220.87 419.83,221.40 423.70,222.60 C427.57,223.80 437.28,224.23 445.00,224.80 C452.72,225.37 461.47,225.53 470.00,226.00 C478.53,226.47 496.20,227.60 496.20,227.60" fill="none" stroke="#f04850" stroke-width="1.45" stroke-linejoin="round"/>
<line x1="367.30" y1="258.10" x2="367.30" y2="260.10" stroke="#000" stroke-width="1.0"/>
<text x="367.30" y="270.00" font-size="9.8" text-anchor="middle" font-weight="normal" fill="#111">80</text>
<line x1="393.12" y1="258.10" x2="393.12" y2="260.10" stroke="#000" stroke-width="1.0"/>
<text x="393.12" y="270.00" font-size="9.8" text-anchor="middle" font-weight="normal" fill="#111">100</text>
<line x1="418.94" y1="258.10" x2="418.94" y2="260.10" stroke="#000" stroke-width="1.0"/>
<text x="418.94" y="270.00" font-size="9.8" text-anchor="middle" font-weight="normal" fill="#111">120</text>
<line x1="444.75" y1="258.10" x2="444.75" y2="260.10" stroke="#000" stroke-width="1.0"/>
<text x="444.75" y="270.00" font-size="9.8" text-anchor="middle" font-weight="normal" fill="#111">140</text>
<line x1="470.57" y1="258.10" x2="470.57" y2="260.10" stroke="#000" stroke-width="1.0"/>
<text x="470.57" y="270.00" font-size="9.8" text-anchor="middle" font-weight="normal" fill="#111">160</text>
<line x1="496.39" y1="258.10" x2="496.39" y2="260.10" stroke="#000" stroke-width="1.0"/>
<text x="496.39" y="270.00" font-size="9.8" text-anchor="middle" font-weight="normal" fill="#111">180</text>
<line x1="380.21" y1="258.10" x2="380.21" y2="259.40" stroke="#000" stroke-width="0.9"/>
<line x1="406.03" y1="258.10" x2="406.03" y2="259.40" stroke="#000" stroke-width="0.9"/>
<line x1="431.85" y1="258.10" x2="431.85" y2="259.40" stroke="#000" stroke-width="0.9"/>
<line x1="457.66" y1="258.10" x2="457.66" y2="259.40" stroke="#000" stroke-width="0.9"/>
<line x1="483.48" y1="258.10" x2="483.48" y2="259.40" stroke="#000" stroke-width="0.9"/>
<line x1="509.30" y1="258.10" x2="509.30" y2="259.40" stroke="#000" stroke-width="0.9"/>
<line x1="365.30" y1="258.10" x2="367.30" y2="258.10" stroke="#000" stroke-width="1.0"/>
<text x="363.90" y="261.40" font-size="9.4" text-anchor="end" fill="#111">10<tspan font-size="6.2" dy="-3.9">-2</tspan></text>
<line x1="366.10" y1="250.82" x2="367.30" y2="250.82" stroke="#000" stroke-width="0.7"/>
<line x1="366.10" y1="246.55" x2="367.30" y2="246.55" stroke="#000" stroke-width="0.7"/>
<line x1="366.10" y1="243.53" x2="367.30" y2="243.53" stroke="#000" stroke-width="0.7"/>
<line x1="366.10" y1="241.18" x2="367.30" y2="241.18" stroke="#000" stroke-width="0.7"/>
<line x1="366.10" y1="239.27" x2="367.30" y2="239.27" stroke="#000" stroke-width="0.7"/>
<line x1="366.10" y1="237.65" x2="367.30" y2="237.65" stroke="#000" stroke-width="0.7"/>
<line x1="366.10" y1="236.25" x2="367.30" y2="236.25" stroke="#000" stroke-width="0.7"/>
<line x1="366.10" y1="235.01" x2="367.30" y2="235.01" stroke="#000" stroke-width="0.7"/>
<line x1="365.30" y1="233.90" x2="367.30" y2="233.90" stroke="#000" stroke-width="1.0"/>
<text x="363.90" y="237.20" font-size="9.4" text-anchor="end" fill="#111">10<tspan font-size="6.2" dy="-3.9">-1</tspan></text>
<line x1="366.10" y1="226.62" x2="367.30" y2="226.62" stroke="#000" stroke-width="0.7"/>
<line x1="366.10" y1="222.35" x2="367.30" y2="222.35" stroke="#000" stroke-width="0.7"/>
<line x1="366.10" y1="219.33" x2="367.30" y2="219.33" stroke="#000" stroke-width="0.7"/>
<line x1="366.10" y1="216.98" x2="367.30" y2="216.98" stroke="#000" stroke-width="0.7"/>
<line x1="366.10" y1="215.07" x2="367.30" y2="215.07" stroke="#000" stroke-width="0.7"/>
<line x1="366.10" y1="213.45" x2="367.30" y2="213.45" stroke="#000" stroke-width="0.7"/>
<line x1="366.10" y1="212.05" x2="367.30" y2="212.05" stroke="#000" stroke-width="0.7"/>
<line x1="366.10" y1="210.81" x2="367.30" y2="210.81" stroke="#000" stroke-width="0.7"/>
<line x1="365.30" y1="209.70" x2="367.30" y2="209.70" stroke="#000" stroke-width="1.0"/>
<text x="363.90" y="213.00" font-size="9.4" text-anchor="end" fill="#111">10<tspan font-size="6.2" dy="-3.9">0</tspan></text>
<line x1="366.10" y1="202.42" x2="367.30" y2="202.42" stroke="#000" stroke-width="0.7"/>
<line x1="366.10" y1="198.15" x2="367.30" y2="198.15" stroke="#000" stroke-width="0.7"/>
<line x1="366.10" y1="195.13" x2="367.30" y2="195.13" stroke="#000" stroke-width="0.7"/>
<line x1="366.10" y1="192.78" x2="367.30" y2="192.78" stroke="#000" stroke-width="0.7"/>
<line x1="366.10" y1="190.87" x2="367.30" y2="190.87" stroke="#000" stroke-width="0.7"/>
<line x1="366.10" y1="189.25" x2="367.30" y2="189.25" stroke="#000" stroke-width="0.7"/>
<line x1="366.10" y1="187.85" x2="367.30" y2="187.85" stroke="#000" stroke-width="0.7"/>
<line x1="366.10" y1="186.61" x2="367.30" y2="186.61" stroke="#000" stroke-width="0.7"/>
<line x1="365.30" y1="185.50" x2="367.30" y2="185.50" stroke="#000" stroke-width="1.0"/>
<text x="363.90" y="188.80" font-size="9.4" text-anchor="end" fill="#111">10<tspan font-size="6.2" dy="-3.9">1</tspan></text>
<line x1="366.10" y1="178.22" x2="367.30" y2="178.22" stroke="#000" stroke-width="0.7"/>
<line x1="366.10" y1="173.95" x2="367.30" y2="173.95" stroke="#000" stroke-width="0.7"/>
<line x1="366.10" y1="170.93" x2="367.30" y2="170.93" stroke="#000" stroke-width="0.7"/>
<line x1="366.10" y1="168.58" x2="367.30" y2="168.58" stroke="#000" stroke-width="0.7"/>
<line x1="366.10" y1="166.67" x2="367.30" y2="166.67" stroke="#000" stroke-width="0.7"/>
<line x1="366.10" y1="165.05" x2="367.30" y2="165.05" stroke="#000" stroke-width="0.7"/>
<line x1="366.10" y1="163.65" x2="367.30" y2="163.65" stroke="#000" stroke-width="0.7"/>
<line x1="366.10" y1="162.41" x2="367.30" y2="162.41" stroke="#000" stroke-width="0.7"/>
<line x1="365.30" y1="161.30" x2="367.30" y2="161.30" stroke="#000" stroke-width="1.0"/>
<text x="363.90" y="164.60" font-size="9.4" text-anchor="end" fill="#111">10<tspan font-size="6.2" dy="-3.9">2</tspan></text>
<line x1="366.10" y1="154.02" x2="367.30" y2="154.02" stroke="#000" stroke-width="0.7"/>
<line x1="366.10" y1="149.75" x2="367.30" y2="149.75" stroke="#000" stroke-width="0.7"/>
<line x1="366.10" y1="146.73" x2="367.30" y2="146.73" stroke="#000" stroke-width="0.7"/>
<text x="0" y="0" font-size="9.5" text-anchor="middle" fill="#111" transform="translate(346.30,206.10) rotate(-90)">Complex viscosity/Pa.s</text>
<text x="434.70" y="279.70" font-size="9.8" text-anchor="middle" font-weight="normal" fill="#111">Temperature/<tspan font-size="7.7" dy="-3.8">o</tspan><tspan dy="3.8">C</tspan></text>
<text x="369.40" y="154.60" font-size="15" font-weight="bold" fill="#000">g</text>
<line x1="389.20" y1="154.50" x2="400.60" y2="154.50" stroke="#4a4a4a" stroke-width="1.55"/>
<line x1="389.20" y1="166.50" x2="400.60" y2="166.50" stroke="#f04850" stroke-width="1.55"/>
<text x="403.40" y="156.60" font-size="9.85" fill="#111">PPE-<tspan font-weight="bold">Ni2/Ni3-MgO</tspan></text>
<text x="403.40" y="168.70" font-size="9.85" fill="#111">PPE-<tspan font-weight="bold">Ni2-MgO/Ni3-MgO</tspan></text>
<defs><clipPath id="semclip"><rect x="526.8" y="143.1" width="153" height="125.7"/></clipPath><filter id="sem" x="0" y="0" width="100%" height="100%" color-interpolation-filters="sRGB"><feTurbulence type="fractalNoise" baseFrequency="0.09" numOctaves="4" seed="7"/><feColorMatrix type="matrix" values="1 0 0 0 0  1 0 0 0 0  1 0 0 0 0  0 0 0 0 1"/></filter><filter id="sem2" x="0" y="0" width="100%" height="100%" color-interpolation-filters="sRGB"><feTurbulence type="fractalNoise" baseFrequency="0.35" numOctaves="2" seed="3"/><feColorMatrix type="matrix" values="1 0 0 0 0  1 0 0 0 0  1 0 0 0 0  0 0 0 0 1"/></filter><filter id="streak" x="0" y="0" width="100%" height="100%" color-interpolation-filters="sRGB"><feTurbulence type="fractalNoise" baseFrequency="0.03 0.22" numOctaves="3" seed="9"/><feColorMatrix type="matrix" values="1 0 0 0 0  1 0 0 0 0  1 0 0 0 0  0 0 0 0 1"/></filter><filter id="blur1"><feGaussianBlur stdDeviation="0.6"/></filter><filter id="blur2"><feGaussianBlur stdDeviation="1.0"/></filter></defs>
<rect x="526.8" y="143.1" width="153" height="125.7" fill="#898989"/>
<g clip-path="url(#semclip)">
<rect x="526.8" y="143.1" width="153" height="125.7" filter="url(#sem)" opacity="0.13"/>
<rect x="526.8" y="143.1" width="153" height="125.7" filter="url(#sem2)" opacity="0.10"/>
<clipPath id="h2clip"><rect x="526.8" y="205.5" width="153" height="63.3"/></clipPath><g clip-path="url(#h2clip)"><g transform="rotate(-30 600 236)"><rect x="480" y="150" width="260" height="180" filter="url(#streak)" opacity="0.09"/></g></g>
<g fill="none" stroke="#a8a8a8" stroke-width="1.1" opacity="0.3" filter="url(#blur2)"><path d="M566,160 q-5,8 0,16 q6,4 10,-4 q2,-9 -4,-13 z"/><path d="M560,186 q-6,6 -2,14 q7,5 12,-2 q2,-8 -4,-12 z"/><path d="M640,158 q-4,7 1,14 q6,3 9,-5 q0,-8 -6,-10 z"/><path d="M660,172 q-5,6 -1,14 q6,4 10,-3 q1,-8 -5,-11 z"/><path d="M585,150 q10,5 20,2"/><path d="M600,170 q8,8 18,4"/><path d="M530,175 q12,-4 22,3"/></g>
<g fill="#c0c0c0" opacity="0.5" filter="url(#blur1)"><circle cx="579" cy="178" r="1.3"/><circle cx="590" cy="168" r="1"/><circle cx="620" cy="182" r="1.4"/><circle cx="632" cy="160" r="1"/><circle cx="612" cy="195" r="1.2"/><circle cx="648" cy="190" r="1"/><circle cx="551" cy="192" r="1"/><circle cx="603" cy="230" r="1.1"/><circle cx="560" cy="240" r="1"/><circle cx="640" cy="228" r="1"/><circle cx="670" cy="215" r="1"/><circle cx="585" cy="255" r="1"/></g>
<g fill="#767676" opacity="0.3" filter="url(#blur1)"><ellipse cx="570" cy="168" rx="4" ry="5"/><ellipse cx="565" cy="193" rx="5" ry="5"/><ellipse cx="645" cy="165" rx="3" ry="4"/><ellipse cx="664" cy="180" rx="4" ry="5"/></g>
<line x1="526.8" y1="205.3" x2="679.8" y2="205.3" stroke="#7c7c7c" stroke-width="0.8" opacity="0.5"/>
</g>
<text x="532.00" y="160.20" font-size="13.8" font-weight="bold" fill="#000">h-1</text>
<text x="532.60" y="221.20" font-size="13.8" font-weight="bold" fill="#000">h-2</text>
<text class="w" x="643.9" y="252.6" font-size="12.5" font-weight="bold" fill="#fff">1 <tspan font-style="italic">μ</tspan>m</text>
<rect x="654.2" y="257.6" width="12.5" height="2.9" fill="#fff"/>
</svg>
</body></html>
